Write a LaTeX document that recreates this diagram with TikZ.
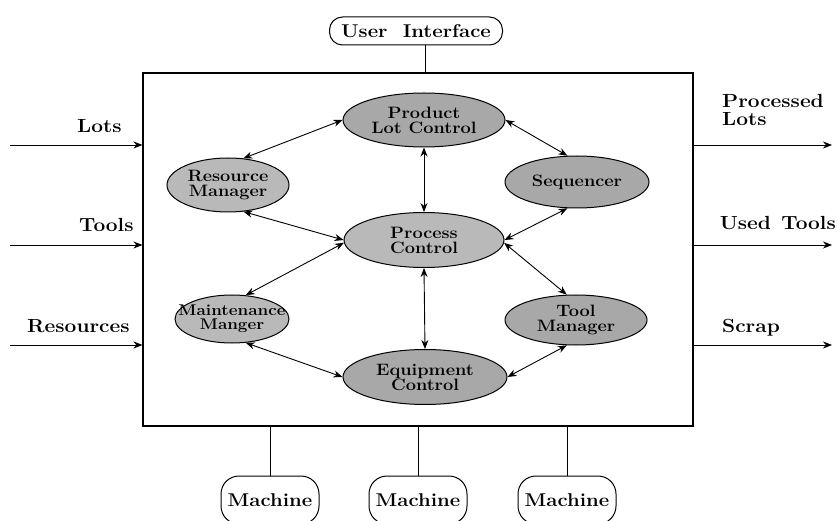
\documentclass[tikz,border=0pt]{standalone}
\usepackage{fontspec}
\setmainfont{Latin Modern Roman}[FakeStretch=1.1]
\usetikzlibrary{shapes.geometric,arrows.meta}
\newcommand{\zw}[1]{\makebox[0pt]{#1}}
\begin{document}
\begin{tikzpicture}[x=1pt,y=-1pt,
  lbl/.style={font=\fontsize{19}{20}\selectfont\bfseries, inner sep=0pt},
  term/.style={draw, line width=1pt, rounded corners=13pt, minimum height=28pt, inner xsep=5pt, font=\fontsize{18.5}{20}\selectfont\bfseries},
  oval/.style={draw, line width=1pt, ellipse, inner sep=0pt, align=center, font=\fontsize{16.5}{18}\selectfont\bfseries},
  dark/.style={oval, fill=gray!68},
  light/.style={oval, fill=gray!55},
  link/.style={line width=0.9pt, {Stealth[length=9pt,width=7pt]}-{Stealth[length=9pt,width=7pt]}},
  flow/.style={line width=0.9pt, -{Stealth[length=9pt,width=7pt]}}
]
\useasboundingbox (0,0) rectangle (838,521);
\node[draw, line width=1.1pt, minimum width=550pt, minimum height=353pt, inner sep=0pt] (sys) at (418,249.5) {};
\node[term, minimum width=173pt] (ui) at (416,31) {User\ \ Interface};
\node[term, minimum height=48pt, minimum width=98pt, rounded corners=18pt] (m1) at (270,500) {Machine};
\node[term, minimum height=48pt, minimum width=98pt, rounded corners=18pt] (m2) at (418,500) {Machine};
\node[term, minimum height=48pt, minimum width=98pt, rounded corners=18pt] (m3) at (567,500) {Machine};
\path (ui.south) ++(9,0) coordinate (uitap);
\draw[line width=0.9pt] (uitap) -- (uitap |- sys.north);
\foreach \m in {m1,m2,m3} \draw[line width=0.9pt] (\m.north |- sys.south) -- (\m.north);

\node[dark, minimum width=162pt, minimum height=54pt] (plc) at (424,120) {\zw{Product}\\[-3pt]\zw{Lot Control}};
\node[light, minimum width=122pt, minimum height=54pt] (rm) at (228,185) {\zw{Resource}\\[-3pt]\zw{Manager}};
\node[dark, minimum width=144pt, minimum height=52pt] (seq) at (577,182) {\zw{Sequencer}};
\node[light, minimum width=160pt, minimum height=55pt] (pc) at (424,240) {\zw{Process}\\[-3pt]\zw{Control}};
\node[light, minimum width=114pt, minimum height=48pt, font=\fontsize{15.5}{17}\selectfont\bfseries] (mm) at (232,319) {\zw{Maintenance}\\[-3pt]\zw{Manger}};
\node[dark, minimum width=142pt, minimum height=50pt] (tm) at (576,320) {\zw{Tool}\\[-3pt]\zw{Manager}};
\node[dark, minimum width=164pt, minimum height=55pt] (ec) at (425,377) {\zw{Equipment}\\[-3pt]\zw{Control}};

\draw[link] (rm.60) -- (plc.180);
\draw[link] (plc.0) -- (seq.110);
\draw[link] (plc.south) -- (pc.north);
\draw[link] (rm.-60) -- (pc.180);
\draw[link] (seq.-110) -- (pc.0);
\draw[link] (pc.182) -- (mm.60);
\draw[link] (pc.-2) -- (tm.110);
\draw[link] (pc.south) -- (ec.north);
\draw[link] (mm.-60) -- (ec.180);
\draw[link] (tm.-110) -- (ec.0);

\coordinate (in1) at (10,145);
\coordinate (in2) at (10,245);
\coordinate (in3) at (10,345);
\coordinate (out1) at (832,145);
\coordinate (out2) at (832,245);
\coordinate (out3) at (832,345);
\draw[flow] (in1) -- (in1 -| sys.west);
\draw[flow] (in2) -- (in2 -| sys.west);
\draw[flow] (in3) -- (in3 -| sys.west);
\draw[flow] (out1 -| sys.east) -- (out1);
\draw[flow] (out2 -| sys.east) -- (out2);
\draw[flow] (out3 -| sys.east) -- (out3);

\node[lbl, anchor=base west] (l1) at (77,133) {Lots};
\node[lbl, anchor=base west] (l2) at (79,232) {Tools};
\node[lbl, anchor=base west] (l3) at (27,332) {Resources};
\node[lbl, anchor=base west] (o1) at (722,108) {Processed};
\node[lbl, anchor=base west] (o1b) at (722,126) {Lots};
\node[lbl, anchor=base east] (o2) at (836,230) {Used\hspace{0.55em}Tools};
\node[lbl, anchor=base west] (o3) at (722,332) {Scrap};
\end{tikzpicture}
\end{document}
